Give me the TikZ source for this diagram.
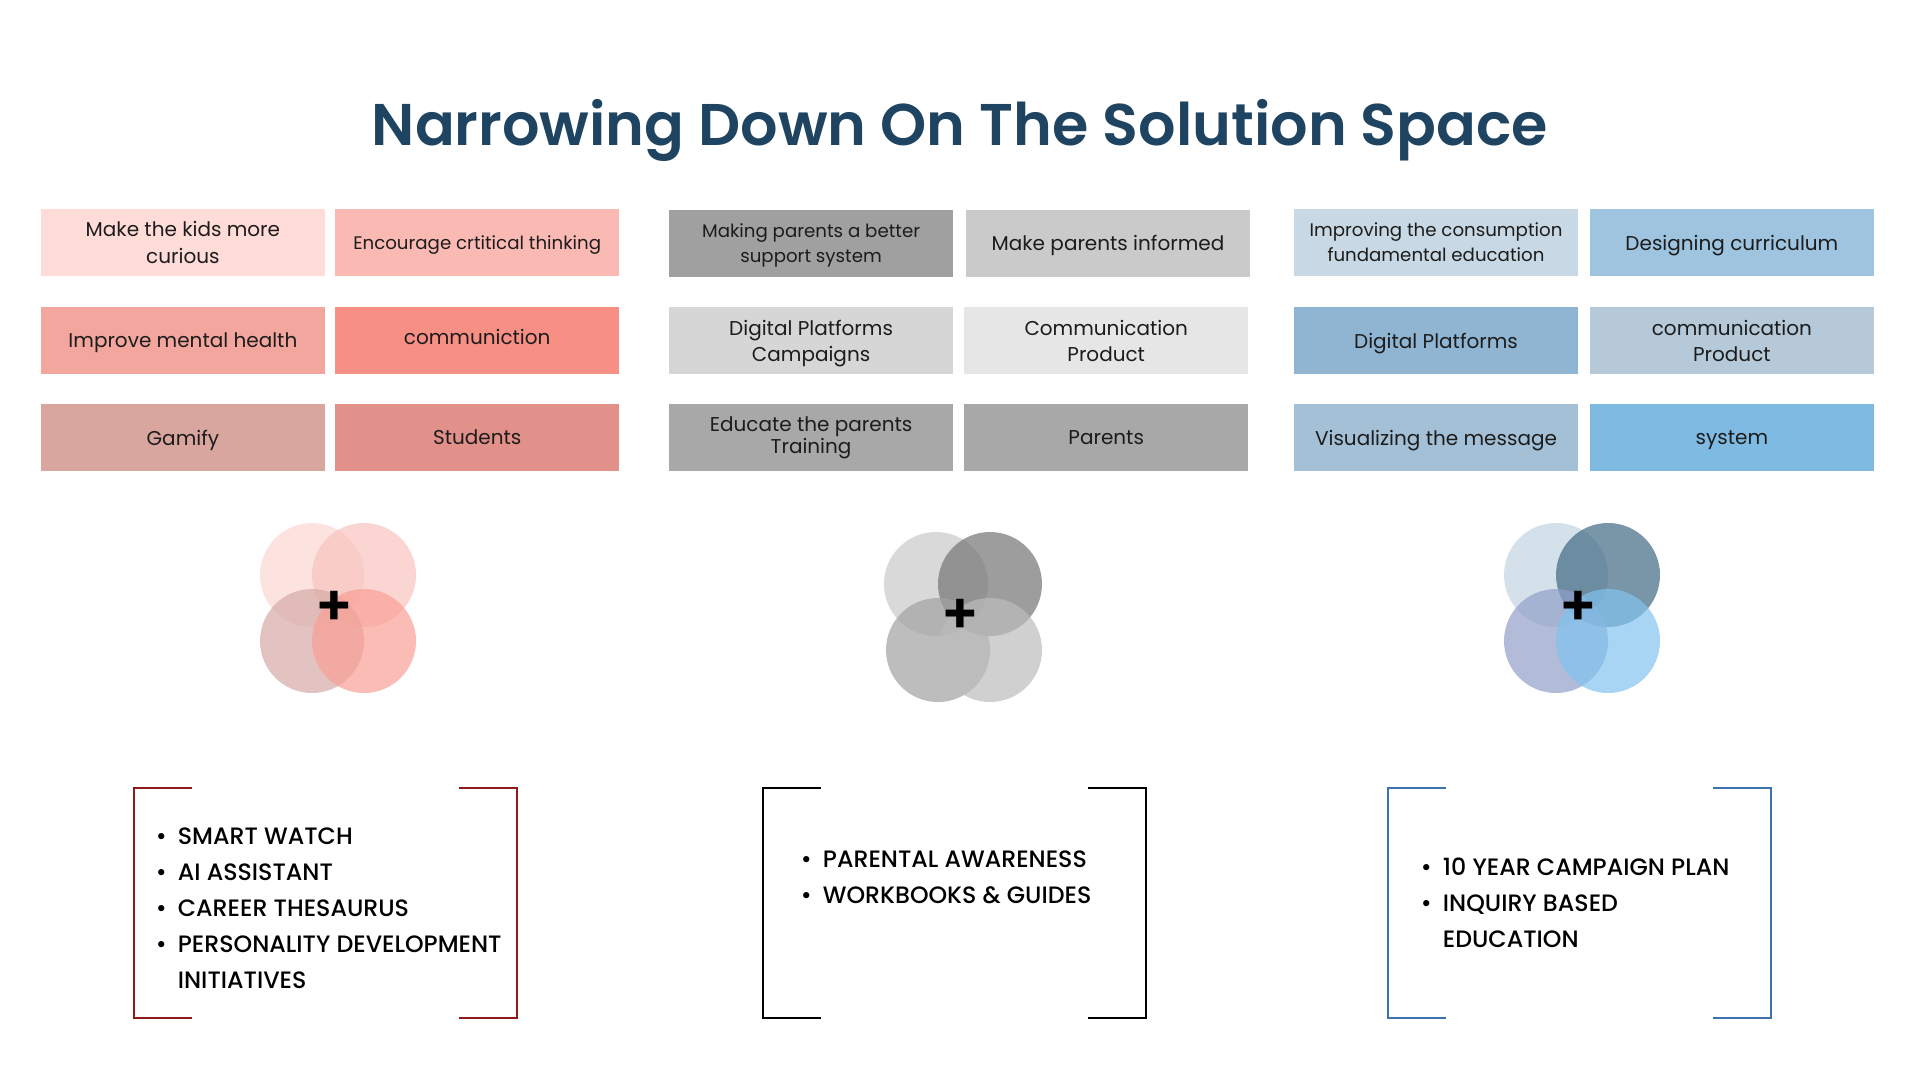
\documentclass[tikz,border=0pt]{standalone}
\usepackage{fontspec}
\setmainfont{Poppins}
\newfontfamily\semib{Poppins SemiBold}
\newfontfamily\medium{Poppins Medium}
\usepackage{xcolor}
\usepackage{tikz}
\definecolor{ttl}{HTML}{1E4461}
\definecolor{ink}{HTML}{1C1C1C}
\definecolor{pA}{HTML}{FFDCD8}\definecolor{pB}{HTML}{FBB9B3}
\definecolor{pC}{HTML}{F3A69D}\definecolor{pD}{HTML}{F88F85}
\definecolor{pE}{HTML}{D8A59F}\definecolor{pF}{HTML}{E2908A}
\definecolor{gA}{HTML}{A0A0A0}\definecolor{gB}{HTML}{CBCACB}
\definecolor{gC}{HTML}{D6D6D6}\definecolor{gD}{HTML}{E6E6E6}
\definecolor{gE}{HTML}{A8A8A8}\definecolor{gF}{HTML}{A8A8A8}
\definecolor{bA}{HTML}{C8D9E5}\definecolor{bB}{HTML}{9EC4E0}
\definecolor{bC}{HTML}{8FB5D2}\definecolor{bD}{HTML}{B5C9D8}
\definecolor{bE}{HTML}{A3C0D7}\definecolor{bF}{HTML}{7FBAE3}
\definecolor{cp1}{HTML}{FCD7D3}\definecolor{cp2}{HTML}{F9C3BE}
\definecolor{cp3}{HTML}{D5AAA6}\definecolor{cp4}{HTML}{FA9F95}
\definecolor{cg1}{HTML}{C9C9C9}\definecolor{cg2}{HTML}{747474}
\definecolor{cg3}{HTML}{A1A1A1}\definecolor{cg4}{HTML}{BCBCBC}
\definecolor{cb1}{HTML}{C2D4E1}\definecolor{cb2}{HTML}{3E6983}
\definecolor{cb3}{HTML}{919FC9}\definecolor{cb4}{HTML}{81C3EE}
\definecolor{brred}{HTML}{8E1A1A}
\definecolor{brblue}{HTML}{3C72AE}
\tikzset{card/.style={rectangle,fill=#1,minimum width=284pt,minimum height=67pt,inner sep=0pt,text depth=0pt,align=center,text=ink,font=\fontsize{20}{27}\selectfont},
  small/.style={font=\fontsize{18.2}{25}\selectfont},
  blob/.style={circle,fill=#1,fill opacity=0.7,minimum size=104pt,inner sep=0pt},
  plus/.style={inner sep=0pt,font=\fontsize{56}{56}\semib},
  brk/.style={line width=1.8pt,draw=#1},
  lst/.style={anchor=north west,inner sep=0pt,align=left,text=black,font=\fontsize{23.7}{36}\medium}}
\newcommand{\bul}{\makebox[22pt][l]{•}}

\begin{document}
\begin{tikzpicture}[x=1pt,y=-1pt]
        \useasboundingbox (0,0) rectangle (1920,1080);
        \node[anchor=base,text=ttl,inner sep=0pt,font=\fontsize{58.8}{70}\semib] (title) at (960,145) {Narrowing Down On The Solution Space};

        % kids
        \node[card=pA] (kidA) at (182.9,242.5) {Make the kids more\\curious};
        \node[card=pB,small] (kidB) at (477.2,242.5) {Encourage crtitical thinking};
        \node[card=pC] (kidC) at (182.9,340.5) {Improve mental health};
        \node[card=pD,text depth=7pt] (kidD) at (477.2,340.5) {communiction};
        \node[card=pE] (kidE) at (182.9,437.5) {Gamify};
        \node[card=pF] (kidF) at (477.2,437.5) {Students};

        % parents
        \node[card=gA,small] (parA) at (811.1,243) {Making parents a better\\support system};
        \node[card=gB] (parB) at (1108,243) {Make parents informed};
        \node[card=gC,font=\fontsize{20}{26}\selectfont] (parC) at (811.1,340.5) {Digital Platforms\\Campaigns};
        \node[card=gD,font=\fontsize{20}{26}\selectfont] (parD) at (1106.2,340.5) {Communication\\Product};
        \node[card=gE,font=\fontsize{20}{22}\selectfont,text depth=4pt] (parE) at (811.1,437.5) {Educate the parents\\Training};
        \node[card=gF] (parF) at (1106.2,437.5) {Parents};

        % education
        \node[card=bA,small] (eduA) at (1436,242.5) {Improving the consumption\\fundamental education};
        \node[card=bB] (eduB) at (1731.9,242.5) {Designing curriculum};
        \node[card=bC] (eduC) at (1436,340.5) {Digital Platforms};
        \node[card=bD,font=\fontsize{20}{26}\selectfont] (eduD) at (1731.9,340.5) {communication\\Product};
        \node[card=bE] (eduE) at (1436,437.5) {Visualizing the message};
        \node[card=bF] (eduF) at (1731.9,437.5) {system};

        % circles
        \node[blob=cp1] (k1) at (312,575) {};
        \node[blob=cp2] (k2) at (364,575) {};
        \node[blob=cp3] (k3) at (312,641) {};
        \node[blob=cp4] (k4) at (364,641) {};
        \node[plus] (kp) at (334,608) {+};

        \node[blob=cg1] (g1) at (936,584) {};
        \node[blob=cg2] (g2) at (990,584) {};
        \node[blob=cg3] (g3) at (938,650) {};
        \node[blob=cg4] (g4) at (990,650) {};
        \node[plus] (gp) at (960,616) {+};

        \node[blob=cb1] (b1) at (1556,575) {};
        \node[blob=cb2] (b2) at (1608,575) {};
        \node[blob=cb3] (b3) at (1556,641) {};
        \node[blob=cb4] (b4) at (1608,641) {};
        \node[plus] (bp) at (1578,608) {+};

        % brackets
        \draw[brk=brred] (191.7,788) -- (134,788) -- (134,1018) -- (191.7,1018);
        \draw[brk=brred] (459.3,788) -- (516.7,788) -- (516.7,1018) -- (459.3,1018);
        \draw[brk=black] (820.7,788) -- (763.3,788) -- (763.3,1018) -- (820.7,1018);
        \draw[brk=black] (1088.3,788) -- (1146,788) -- (1146,1018) -- (1088.3,1018);
        \draw[brk=brblue] (1445.7,788) -- (1388,788) -- (1388,1018) -- (1445.7,1018);
        \draw[brk=brblue] (1713.3,788) -- (1771,788) -- (1771,1018) -- (1713.3,1018);

        \node[lst] (kidL) at (155.7,827.5) {\bul SMART WATCH\\\bul AI ASSISTANT\\\bul CAREER THESAURUS\\\bul PERSONALITY DEVELOPMENT\\\hspace*{22pt}INITIATIVES};
        \node[lst] (parL) at (800.7,851) {\bul PARENTAL AWARENESS\\\bul WORKBOOKS \& GUIDES};
        \node[lst] (eduL) at (1420.7,857.5) {\bul 10 YEAR CAMPAIGN PLAN\\\bul INQUIRY BASED\\\hspace*{22pt}EDUCATION};
    \end{tikzpicture}
\end{document}
